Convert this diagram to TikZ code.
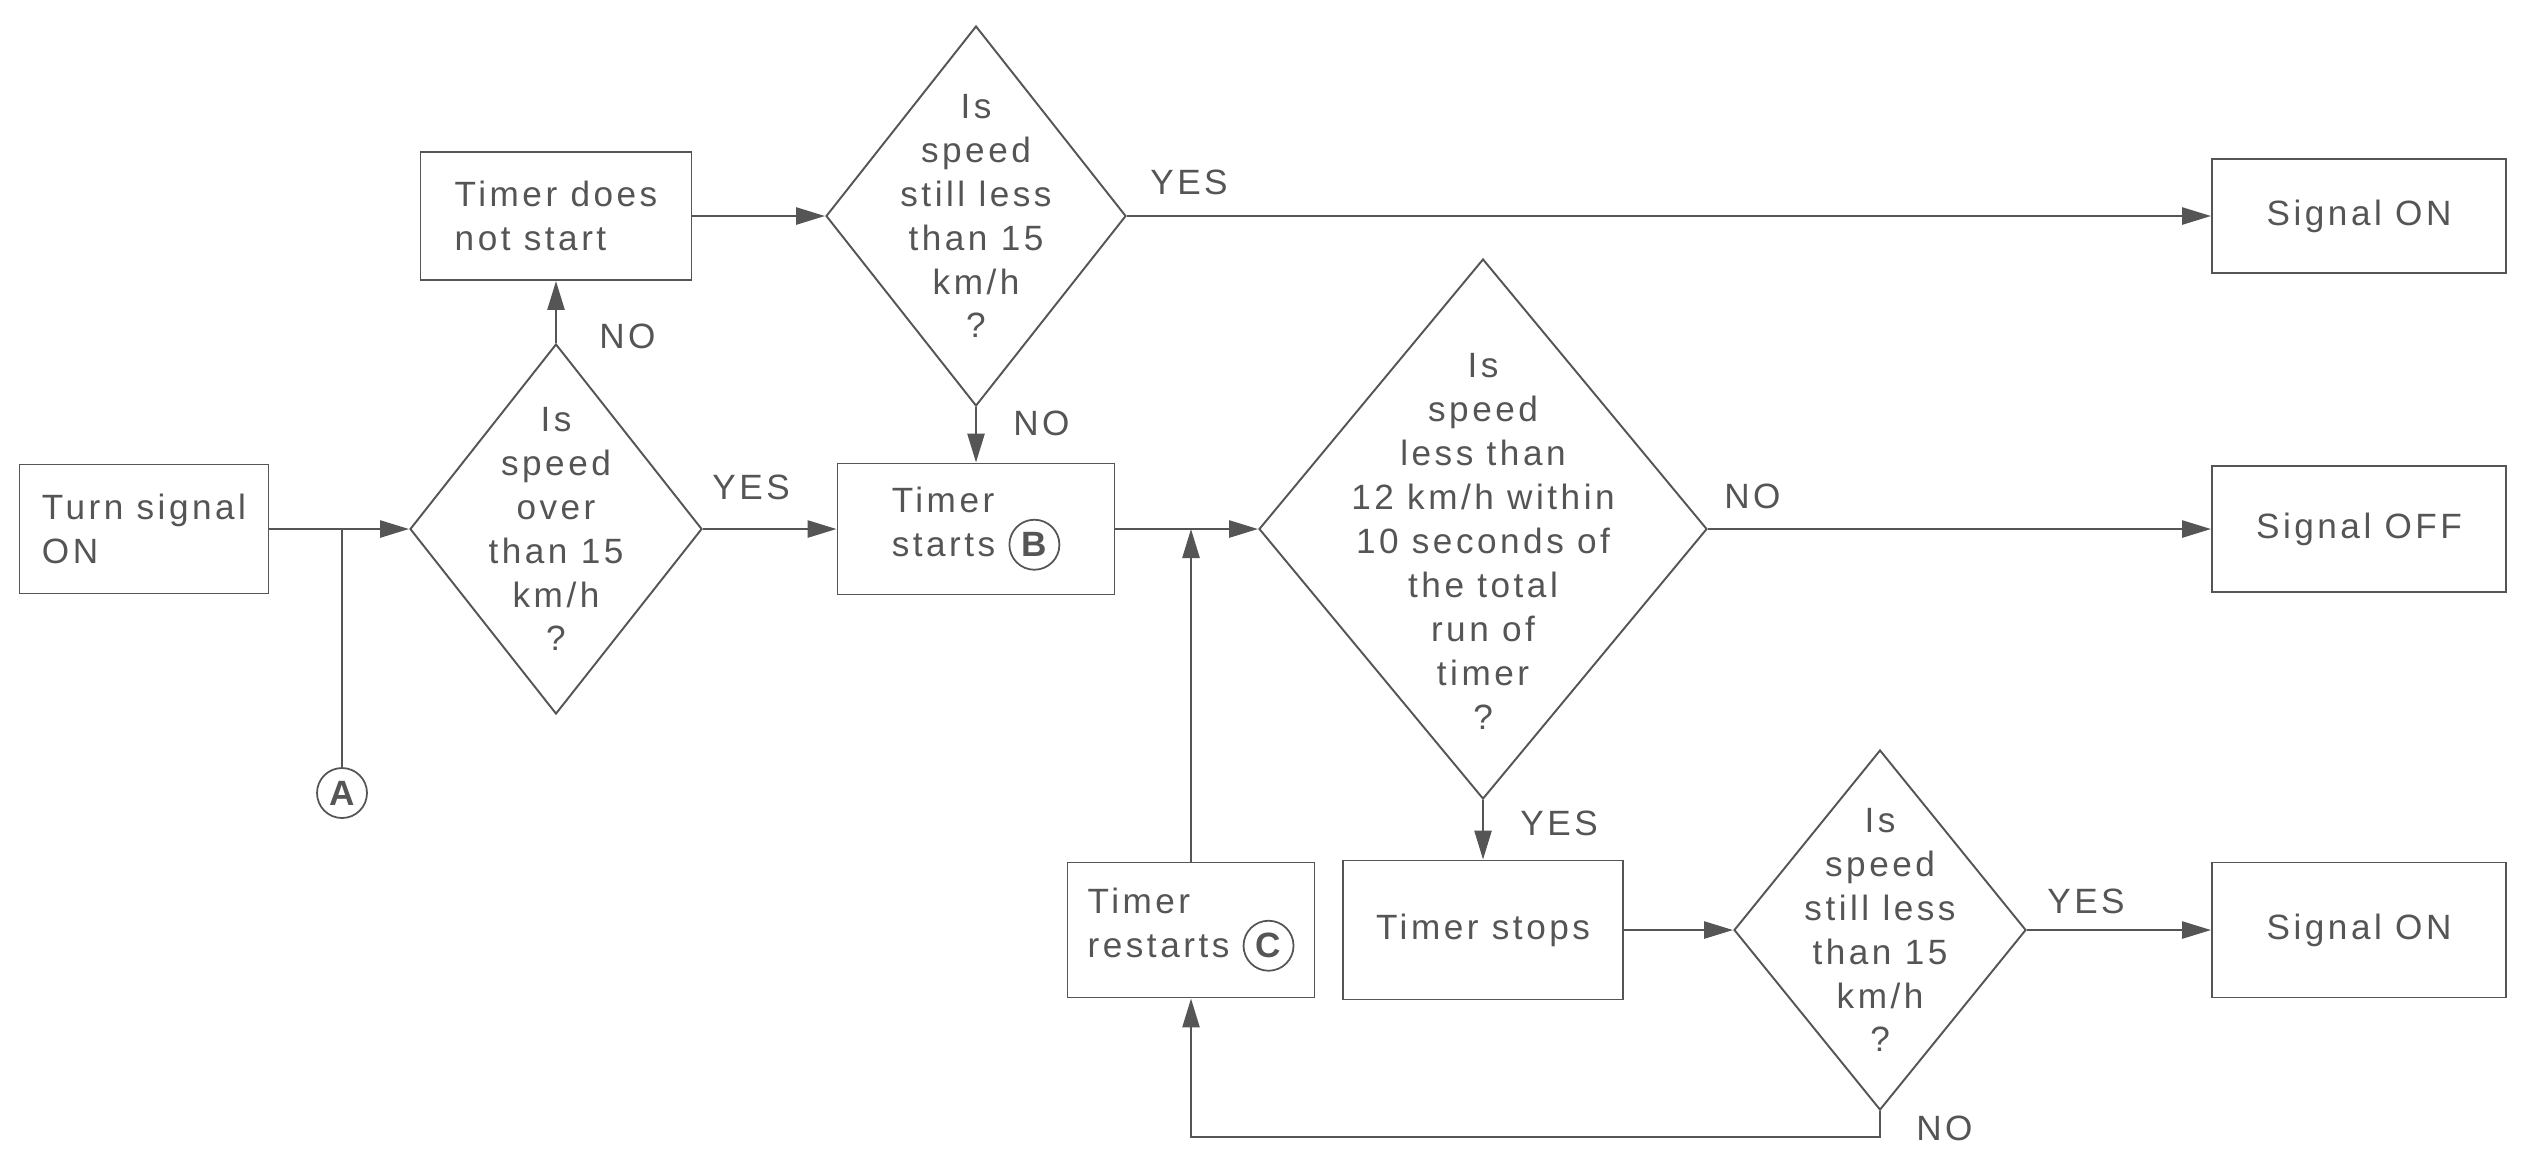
\documentclass[tikz,border=0pt]{standalone}
\usepackage{fontspec}
\setmainfont[LetterSpace=10]{Liberation Sans}
\usepackage{tikz}
\usetikzlibrary{shapes.geometric,arrows.meta,positioning}
\definecolor{ChartInk}{HTML}{555555}
\newcommand{\chartfont}{\fontsize{10}{12.5}\selectfont}
\tikzset{circ/.style={circle, draw=ChartInk, line width=0.5pt, minimum size=0.5cm,
                      inner sep=0pt, outer sep=0pt, font=\chartfont\bfseries}}
\newcommand{\circled}[1]{\tikz[baseline=(ltr.base)]\node[circ] (ltr) {#1};}

\begin{document}
\begin{tikzpicture}[
  color=ChartInk,
  box/.style={draw=ChartInk, line width=0.55pt, font=\chartfont, align=left},
  decision/.style={diamond, draw=ChartInk, line width=0.55pt, font=\chartfont,
                   align=center, inner xsep=-0.7cm, inner ysep=-1.5cm},
  flow/.style={-{Triangle[length=2.9mm,width=1.7mm]}, line width=0.75pt},
  wire/.style={line width=0.75pt},
  answer/.style={font=\chartfont, inner sep=0pt}
]
  \useasboundingbox (0,0) rectangle (25.27,-11.51);

  \node[box, minimum width=2.49cm, minimum height=1.29cm] (tsig)    at (1.44,-5.29)  {Turn signal\\ON};
  \node[box, minimum width=2.71cm, minimum height=1.28cm] (nostart) at (5.56,-2.16)  {Timer does\\not start};
  \node[box, minimum width=2.77cm, minimum height=1.31cm] (start)   at (9.76,-5.29)  {Timer\\starts \circled{B}};
  \node[box, minimum width=2.47cm, minimum height=1.35cm] (restart) at (11.91,-9.30) {Timer\\restarts \circled{C}};
  \node[box, minimum width=2.80cm, minimum height=1.39cm] (stop)    at (14.83,-9.30) {Timer stops};
  \node[box, minimum width=2.94cm, minimum height=1.14cm] (onA)     at (23.59,-2.16) {Signal ON};
  \node[box, minimum width=2.94cm, minimum height=1.26cm] (off)     at (23.59,-5.29) {Signal OFF};
  \node[box, minimum width=2.94cm, minimum height=1.35cm] (onB)     at (23.59,-9.30) {Signal ON};

  \node[decision, minimum width=2.92cm, minimum height=3.70cm] (d1) at (5.56,-5.29)
    {Is\\speed\\over\\than 15\\km/h\\?};
  \node[decision, minimum width=3.00cm, minimum height=3.80cm] (d2) at (9.76,-2.16)
    {Is\\speed\\still less\\than 15\\km/h\\?};
  \node[decision, minimum width=4.48cm, minimum height=5.40cm] (d3) at (14.83,-5.29)
    {\rule{0pt}{13.9pt}Is\\speed\\less than\\12 km/h within\\10 seconds of\\the total\\run of\\timer\\?};
  \node[decision, minimum width=2.92cm, minimum height=3.60cm] (d4) at (18.80,-9.30)
    {Is\\speed\\still less\\than 15\\km/h\\?};

  \node[circ] (ca) at (3.42,-7.93) {A};
  \coordinate (nb) at ([yshift=-0.26cm]d4.south);

  \draw[flow] (tsig.east) -- (d1.west);
  \draw[wire] (ca) -- (ca |- tsig.east);
  \draw[flow] (d1.north) -- node[answer, pos=0.1, right=0.42cm] (no1) {NO} (nostart.south);
  \draw[flow] (d1.east) -- node[answer, pos=0.36, above=0.28cm] (yes1) {YES} (start.west);
  \draw[flow] (nostart.east) -- (d2.west);
  \draw[flow] (d2.east) -- node[answer, pos=0, above right=0.2cm and 0.22cm] (yes2) {YES} (onA.west);
  \draw[flow] (d2.south) -- node[answer, pos=0.3, right=0.36cm] (no2) {NO} (start.north);
  \draw[flow] (start.east) -- (d3.west);
  \draw[flow] (restart.north) -- (restart.north |- start.east);
  \draw[flow] (d3.east) -- node[answer, pos=0, above right=0.185cm and 0.15cm] (no3) {NO} (off.west);
  \draw[flow] (d3.south) -- node[answer, pos=0, below right=0.1cm and 0.36cm] (yes3) {YES} (stop.north);
  \draw[flow] (stop.east) -- (d4.west);
  \draw[flow] (d4.east) -- node[answer, pos=0, above right=0.145cm and 0.19cm] (yes4) {YES} (onB.west);
  \draw[flow] (d4.south) -- node[answer, pos=0, below right=0.04cm and 0.35cm] (no4) {NO} (nb) -| (restart.south);
\end{tikzpicture}
\end{document}
